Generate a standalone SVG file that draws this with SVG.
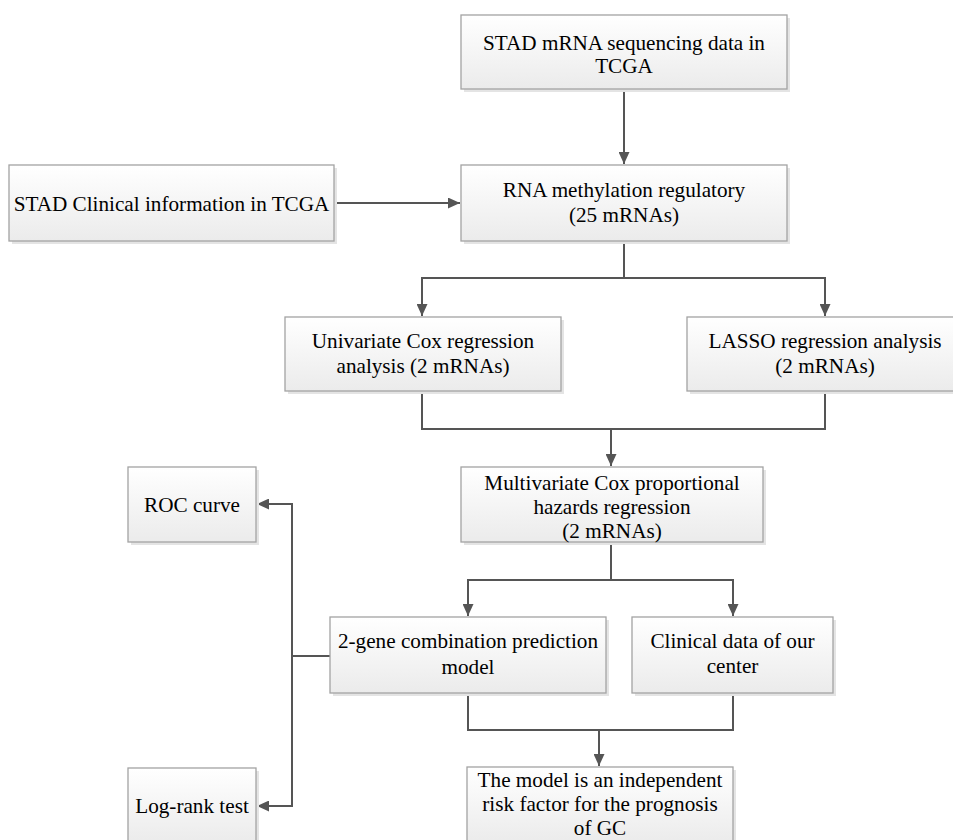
<svg xmlns="http://www.w3.org/2000/svg" width="953" height="840" viewBox="0 0 953 840">
<style>
.box{fill:url(#g);stroke:#a3a3a3;stroke-width:1.3}
.sh{fill:#e4e4e4}
.t{font-family:"Liberation Serif","Times New Roman",serif;font-size:21.2px;fill:#000;text-anchor:middle}
.c{fill:none;stroke:#555;stroke-width:2}
</style>
<defs>
<linearGradient id="g" x1="0" y1="0" x2="0" y2="1">
<stop offset="0" stop-color="#ffffff"/>
<stop offset="1" stop-color="#ebebeb"/>
</linearGradient>
<marker id="a" markerUnits="userSpaceOnUse" markerWidth="13" markerHeight="11" refX="12" refY="5.5" orient="auto">
<path d="M0,0 L12,5.5 L0,11 z" fill="#555"/>
</marker>
</defs>
<rect width="953" height="840" fill="#fff"/>
<g id="connectors">
<path class="c" d="M624,89 V164" marker-end="url(#a)"/>
<path class="c" d="M334,203 H460" marker-end="url(#a)"/>
<path class="c" d="M624,241 V278 H422 V316" marker-end="url(#a)"/>
<path class="c" d="M624,278 H825 V316" marker-end="url(#a)"/>
<path class="c" d="M422,391 V429 H825 V391"/>
<path class="c" d="M611,429 V466" marker-end="url(#a)"/>
<path class="c" d="M611,542 V580 H468 V616" marker-end="url(#a)"/>
<path class="c" d="M611,580 H733 V616" marker-end="url(#a)"/>
<path class="c" d="M330,656 H292"/>
<path class="c" d="M292,656 V504 H257" marker-end="url(#a)"/>
<path class="c" d="M292,656 V806 H257" marker-end="url(#a)"/>
<path class="c" d="M468,693 V730 H733 V693"/>
<path class="c" d="M599,730 V766" marker-end="url(#a)"/>
</g>
<g id="n-top">
<rect class="sh" x="464" y="18" width="326" height="74"/>
<rect class="box" x="461" y="15" width="326" height="74"/>
<text class="t" x="624" y="50">STAD mRNA sequencing data in</text>
<text class="t" x="624" y="73">TCGA</text>
</g>
<g id="n-clinical-tcga">
<rect class="sh" x="12" y="168" width="325" height="76"/>
<rect class="box" x="9" y="165" width="325" height="76"/>
<text class="t" x="171.5" y="211">STAD Clinical information in TCGA</text>
</g>
<g id="n-rna">
<rect class="sh" x="464" y="168" width="326" height="76"/>
<rect class="box" x="461" y="165" width="326" height="76"/>
<text class="t" x="624" y="197">RNA methylation regulatory</text>
<text class="t" x="624" y="222">(25 mRNAs)</text>
</g>
<g id="n-univariate">
<rect class="sh" x="288" y="320" width="276" height="74"/>
<rect class="box" x="285" y="317" width="276" height="74"/>
<text class="t" x="423" y="348">Univariate Cox regression</text>
<text class="t" x="423" y="373">analysis (2 mRNAs)</text>
</g>
<g id="n-lasso">
<rect class="sh" x="690" y="320" width="276" height="74"/>
<rect class="box" x="687" y="317" width="276" height="74"/>
<text class="t" x="825" y="348">LASSO regression analysis</text>
<text class="t" x="825" y="373">(2 mRNAs)</text>
</g>
<g id="n-multivariate">
<rect class="sh" x="464" y="470" width="302" height="75"/>
<rect class="box" x="461" y="467" width="302" height="75"/>
<text class="t" x="612" y="490">Multivariate Cox proportional</text>
<text class="t" x="612" y="514">hazards regression</text>
<text class="t" x="612" y="538">(2 mRNAs)</text>
</g>
<g id="n-roc">
<rect class="sh" x="131" y="470" width="128" height="75"/>
<rect class="box" x="128" y="467" width="128" height="75"/>
<text class="t" x="192" y="512">ROC curve</text>
</g>
<g id="n-model">
<rect class="sh" x="333" y="620" width="276" height="76"/>
<rect class="box" x="330" y="617" width="276" height="76"/>
<text class="t" x="468" y="648">2-gene combination prediction</text>
<text class="t" x="468" y="674">model</text>
</g>
<g id="n-center">
<rect class="sh" x="635" y="620" width="201" height="76"/>
<rect class="box" x="632" y="617" width="201" height="76"/>
<text class="t" x="732.5" y="648">Clinical data of our</text>
<text class="t" x="732.5" y="673">center</text>
</g>
<g id="n-logrank">
<rect class="sh" x="131" y="771" width="128" height="75"/>
<rect class="box" x="128" y="768" width="128" height="75"/>
<text class="t" x="192" y="813">Log-rank test</text>
</g>
<g id="n-result">
<rect class="sh" x="470" y="770" width="266" height="76"/>
<rect class="box" x="467" y="767" width="266" height="76"/>
<text class="t" x="600" y="787">The model is an independent</text>
<text class="t" x="600" y="811">risk factor for the prognosis</text>
<text class="t" x="600" y="835">of GC</text>
</g>
</svg>
